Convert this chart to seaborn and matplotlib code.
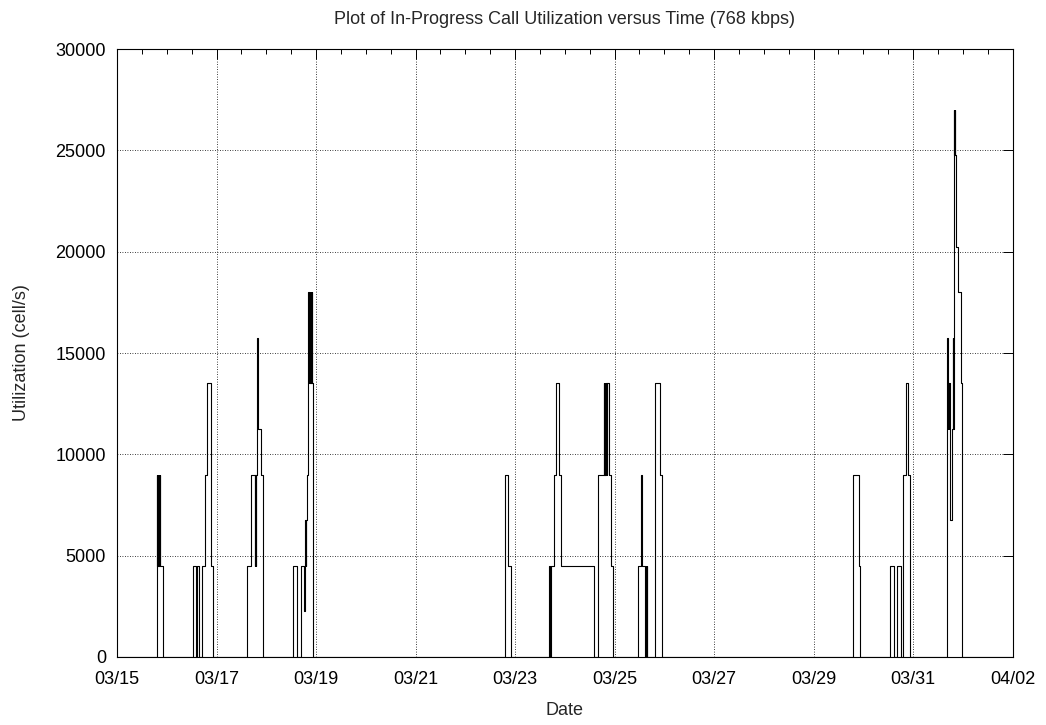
import numpy as np
import pandas as pd
import matplotlib
matplotlib.use("Agg")
import matplotlib.pyplot as plt
import matplotlib.dates as mdates
import seaborn as sns

# step data: time (days after 03/15 00:00) where the level changes, and the new level (cell/s)
days = [0.0,
        0.795, 0.800, 0.810, 0.820, 0.830, 0.840, 0.850, 0.860, 0.865, 0.919,
        1.534, 1.582, 1.614, 1.654, 1.702, 1.769, 1.803, 1.889, 1.936,
        2.619, 2.693, 2.774, 2.780, 2.786, 2.792, 2.820, 2.828, 2.894, 2.927,
        3.543, 3.612, 3.692, 3.760, 3.775, 3.780, 3.790, 3.800, 3.813, 3.829,
        3.835, 3.866, 3.871, 3.876, 3.881, 3.886, 3.891, 3.896, 3.901, 3.906,
        3.911, 3.914, 3.934, 3.946,
        7.799, 7.866, 7.914,
        8.689, 8.700, 8.725, 8.790, 8.824, 8.891, 8.925, 9.580,
        9.674, 9.789, 9.795, 9.800, 9.806, 9.811, 9.817, 9.822, 9.828, 9.833,
        9.839, 9.843, 9.896, 9.930, 9.964,
        10.478, 10.535, 10.548, 10.620, 10.630, 10.640, 10.650, 10.660,
        10.814, 10.915, 10.949,
        14.800, 14.915, 14.941,
        15.538, 15.618, 15.685, 15.760, 15.790, 15.853, 15.905, 15.930,
        16.677, 16.690, 16.700, 16.705, 16.710, 16.715, 16.720, 16.725, 16.730,
        16.735, 16.750, 16.785, 16.795, 16.800, 16.805, 16.810, 16.815, 16.820,
        16.825, 16.830, 16.835, 16.840, 16.845, 16.850, 16.858, 16.905, 16.959,
        16.991,
        18.0]
cells = [0,
         4500, 9000, 4500, 9000, 4500, 9000, 4500, 9000, 4500, 0,
         4500, 0, 4500, 0, 4500, 9000, 13500, 4500, 0,
         4500, 9000, 4500, 9000, 4500, 9000, 15750, 11250, 9000, 0,
         4500, 0, 4500, 2250, 4500, 6750, 4500, 6750, 9000, 13500,
         18000, 13500, 18000, 13500, 18000, 13500, 18000, 13500, 18000, 13500,
         18000, 13500, 9000, 0,
         9000, 4500, 0,
         4500, 0, 4500, 9000, 13500, 9000, 4500, 0,
         9000, 13500, 9000, 13500, 9000, 13500, 9000, 13500, 9000, 13500,
         9000, 13500, 9000, 4500, 0,
         4500, 9000, 4500, 0, 4500, 0, 4500, 0,
         13500, 9000, 0,
         9000, 4500, 0,
         4500, 0, 4500, 0, 9000, 13500, 9000, 0,
         4500, 15750, 13500, 11250, 13500, 11250, 13500, 11250, 13500,
         11250, 6750, 11250, 15750, 11250, 15750, 11250, 15750, 11250,
         27000, 24750, 27000, 24750, 27000, 24750, 20250, 18000, 13500,
         0,
         0]

start = pd.Timestamp("2004-03-15")
df = pd.DataFrame({"time": start + pd.to_timedelta(days, unit="D"), "util": cells})

sns.set_style("white")
plt.rcParams["font.family"] = ["Liberation Sans", "DejaVu Sans"]

fig = plt.figure(figsize=(10.46, 7.25), dpi=100)
ax = fig.add_axes([0.1119, 0.0938, 0.8561, 0.8386])

sns.lineplot(data=df, x="time", y="util", drawstyle="steps-post", color="black",
             linewidth=0.8, estimator=None, sort=False, ax=ax)

ax.set_xlim(start, start + pd.Timedelta(days=18))
ax.set_ylim(0, 30000)
ax.xaxis.set_major_locator(mdates.DayLocator(interval=2))
ax.xaxis.set_minor_locator(mdates.HourLocator(byhour=[0, 12]))
ax.xaxis.set_major_formatter(mdates.DateFormatter("%m/%d"))
ax.set_yticks(np.arange(0, 30001, 5000))

ax.tick_params(which="both", direction="in", top=True, right=True, colors="black",
               labelsize=13, pad=8)
ax.tick_params(axis="x", which="major", pad=10)
ax.tick_params(which="major", length=7, width=0.7)
ax.tick_params(which="minor", length=3.5, width=0.7)
ax.grid(True, which="major", color="black", linestyle=(0, (1, 2)), linewidth=0.6)
for s in ax.spines.values():
    s.set_color("black")
    s.set_linewidth(0.8)

ax.set_xlabel("Date", fontsize=13, labelpad=10)
ax.set_ylabel("Utilization (cell/s)", fontsize=13, labelpad=18)
ax.set_title("Plot of In-Progress Call Utilization versus Time (768 kbps)", fontsize=13, pad=18)

fig.savefig("out.png", dpi=100)
